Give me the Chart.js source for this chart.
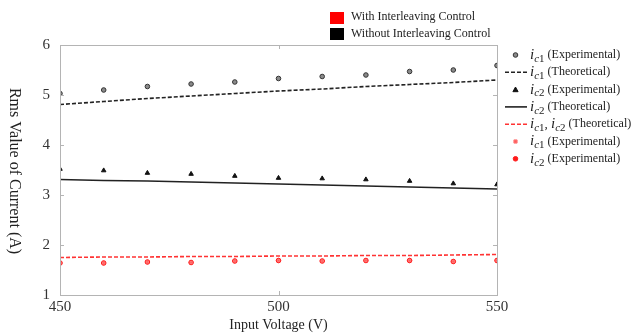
<!DOCTYPE html>
<html>
<head>
<meta charset="utf-8">
<script src="https://cdn.jsdelivr.net/npm/chart.js@4"></script>
<style>
  html, body { margin: 0; padding: 0; background: #fff; }
  #wrap { width: 634px; height: 334px; position: relative; }
</style>
</head>
<body>
<div id="wrap"><canvas id="rmsChart"></canvas></div>
<script>
// Input voltage (V) and rms currents (A)
const voltages = [450, 460, 470, 480, 490, 500, 510, 520, 530, 540, 550];
const ic1Exp    = [5.03, 5.10, 5.17, 5.22, 5.26, 5.33, 5.37, 5.40, 5.47, 5.50, 5.59];
const ic1Theo   = [4.81, 4.87, 4.93, 4.98, 5.03, 5.08, 5.12, 5.17, 5.21, 5.25, 5.30];
const ic2Exp    = [3.52, 3.49, 3.44, 3.42, 3.38, 3.34, 3.33, 3.31, 3.28, 3.23, 3.21];
const ic2Theo   = [3.31, 3.29, 3.28, 3.26, 3.24, 3.22, 3.20, 3.18, 3.16, 3.14, 3.12];
const ilTheo    = [1.75, 1.76, 1.76, 1.77, 1.77, 1.78, 1.78, 1.79, 1.79, 1.80, 1.81];
const ilIc1Exp  = [1.64, 1.64, 1.66, 1.65, 1.68, 1.69, 1.68, 1.69, 1.69, 1.67, 1.69];
const ilIc2Exp  = [1.64, 1.64, 1.66, 1.65, 1.68, 1.69, 1.68, 1.69, 1.69, 1.67, 1.69];
const xTicks = [450, 500, 550];
const yTicks = [1, 2, 3, 4, 5, 6];

const SERIF = "'Liberation Serif','DejaVu Serif',serif";
const pts = arr => arr.map((v, i) => ({ x: voltages[i], y: v }));

// legend rows: subscripts, suffix, dataset index
const legendRows = [
    { subs: ['c1'], tail: ' (Experimental)', ds: 0 },
    { subs: ['c1'], tail: ' (Theoretical)', ds: 1 },
    { subs: ['c2'], tail: ' (Experimental)', ds: 2 },
    { subs: ['c2'], tail: ' (Theoretical)', ds: 3 },
    { subs: ['c1', 'c2'], tail: ' (Theoretical)', ds: 4 },
    { subs: ['c1'], tail: ' (Experimental)', ds: 5 },
    { subs: ['c2'], tail: ' (Experimental)', ds: 6 }
];

const decorPlugin = {
    id: 'decor',
    afterDraw(chart) {
        const { ctx, chartArea: a, scales } = chart;
        ctx.save();
        // frame + inward ticks
        ctx.strokeStyle = '#b4b4b4';
        ctx.lineWidth = 1;
        ctx.strokeRect(a.left + 0.5, a.top + 0.5, a.right - a.left, a.bottom - a.top);
        ctx.beginPath();
        yTicks.forEach(v => {
            const y = Math.round(scales.y.getPixelForValue(v)) + 0.5;
            ctx.moveTo(a.left, y); ctx.lineTo(a.left + 4, y);
            ctx.moveTo(a.right, y); ctx.lineTo(a.right - 4, y);
        });
        xTicks.forEach(v => {
            const x = Math.round(scales.x.getPixelForValue(v)) + 0.5;
            ctx.moveTo(x, a.bottom); ctx.lineTo(x, a.bottom - 4);
            ctx.moveTo(x, a.top); ctx.lineTo(x, a.top + 4);
        });
        ctx.stroke();

        // y title, reading top to bottom
        ctx.fillStyle = '#222';
        ctx.font = '16px ' + SERIF;
        ctx.textAlign = 'center';
        ctx.textBaseline = 'middle';
        ctx.translate(14, 171);
        ctx.rotate(Math.PI / 2);
        ctx.fillText('Rms Value of Current (A)', 0, 0);
        ctx.setTransform(1, 0, 0, 1, 0, 0);

        // top colour legend
        ctx.textAlign = 'left';
        ctx.font = '12px ' + SERIF;
        ctx.fillStyle = '#ff0000';
        ctx.fillRect(330, 12, 14, 12);
        ctx.fillStyle = '#000';
        ctx.fillRect(330, 28, 14, 12);
        ctx.fillStyle = '#222';
        ctx.fillText('With Interleaving Control', 351, 17);
        ctx.fillText('Without Interleaving Control', 351, 34);

        // series legend
        legendRows.forEach((row, i) => {
            const y = 55 + i * 17.3;
            const ds = chart.data.datasets[row.ds];
            const x0 = 505, x1 = 527;
            if (ds.showLine) {
                ctx.beginPath();
                ctx.strokeStyle = ds.borderColor;
                ctx.lineWidth = ds.borderWidth;
                ctx.setLineDash(ds.borderDash || []);
                ctx.moveTo(x0, y); ctx.lineTo(x1, y);
                ctx.stroke();
                ctx.setLineDash([]);
            } else {
                drawMarker(ctx, ds, (x0 + x1) / 2 - 0.5, y);
            }
            let x = 530;
            ctx.fillStyle = '#222';
            row.subs.forEach((s, k) => {
                if (k > 0) {
                    ctx.font = '13px ' + SERIF;
                    ctx.fillText(',', x, y);
                    x += ctx.measureText(', ').width;
                }
                ctx.font = 'italic 15px ' + SERIF;
                ctx.fillText('i', x, y);
                x += ctx.measureText('i').width;
                ctx.font = 'italic 11px ' + SERIF;
                ctx.fillText(s[0], x, y + 4);
                x += ctx.measureText(s[0]).width;
                ctx.font = '11px ' + SERIF;
                ctx.fillText(s.slice(1), x, y + 4);
                x += ctx.measureText(s.slice(1)).width;
            });
            ctx.font = '12px ' + SERIF;
            ctx.fillText(row.tail, x, y);
        });
        ctx.restore();
    }
};

function drawMarker(ctx, ds, x, y) {
    ctx.fillStyle = ds.pointBackgroundColor;
    ctx.strokeStyle = ds.pointBorderColor;
    ctx.lineWidth = 1;
    const r = ds.pointRadius;
    ctx.beginPath();
    if (ds.pointStyle === 'triangle') {
        ctx.moveTo(x, y - r); ctx.lineTo(x + r, y + r * 0.8); ctx.lineTo(x - r, y + r * 0.8); ctx.closePath();
    } else if (ds.pointStyle === 'rect') {
        ctx.rect(x - r, y - r, 2 * r, 2 * r);
    } else {
        ctx.arc(x, y, r, 0, Math.PI * 2);
    }
    ctx.fill(); ctx.stroke();
}

const expStyle = (style, bg, border, r) => ({
    showLine: false, pointStyle: style, pointRadius: r, pointHoverRadius: r,
    pointBackgroundColor: bg, pointBorderColor: border, pointBorderWidth: 1
});
const lineStyle = (color, dash) => ({
    showLine: true, pointRadius: 0, borderColor: color, borderWidth: 1.6,
    borderDash: dash, tension: 0, fill: false
});

new Chart(document.getElementById('rmsChart'), {
    type: 'scatter',
    data: {
        datasets: [
            { label: 'ic1 (Experimental)', data: pts(ic1Exp), ...expStyle('circle', '#8a8a8a', '#333', 2.3) },
            { label: 'ic1 (Theoretical)', data: pts(ic1Theo), ...lineStyle('#222', [4, 2]) },
            { label: 'ic2 (Experimental)', data: pts(ic2Exp), ...expStyle('triangle', '#111', '#111', 2.6) },
            { label: 'ic2 (Theoretical)', data: pts(ic2Theo), ...lineStyle('#222', []) },
            { label: 'ic1, ic2 (Theoretical)', data: pts(ilTheo), ...lineStyle('#ff3333', [4, 2]) },
            { label: 'ic1 (Experimental) interleaved', data: pts(ilIc1Exp), ...expStyle('rect', '#ff5a5a', '#ff7a7a', 1.6) },
            { label: 'ic2 (Experimental) interleaved', data: pts(ilIc2Exp), ...expStyle('circle', '#ff1a1a', '#ff1a1a', 2.3) }
        ]
    },
    options: {
        responsive: true,
        maintainAspectRatio: false,
        animation: false,
        layout: { padding: { left: 0, right: 137, top: 45, bottom: 0 } },
        plugins: { legend: { display: false }, tooltip: { enabled: false } },
        scales: {
            x: {
                type: 'linear', min: 450, max: 550,
                afterFit: s => { s.height = 39; },
                afterBuildTicks: s => { s.ticks = xTicks.map(v => ({ value: v })); },
                grid: { display: false },
                border: { display: false },
                ticks: { font: { family: SERIF, size: 15 }, color: '#333', padding: -5, maxRotation: 0 },
                title: { display: true, text: 'Input Voltage (V)', font: { family: SERIF, size: 14 }, color: '#222', padding: { top: 0, bottom: 0 } }
            },
            y: {
                type: 'linear', min: 1, max: 6,
                afterFit: s => { s.width = 60; },
                afterBuildTicks: s => { s.ticks = yTicks.map(v => ({ value: v })); },
                grid: { display: false },
                border: { display: false },
                ticks: { font: { family: SERIF, size: 15 }, color: '#333', padding: 2 }
            }
        }
    },
    plugins: [decorPlugin]
});
</script>
</body>
</html>
